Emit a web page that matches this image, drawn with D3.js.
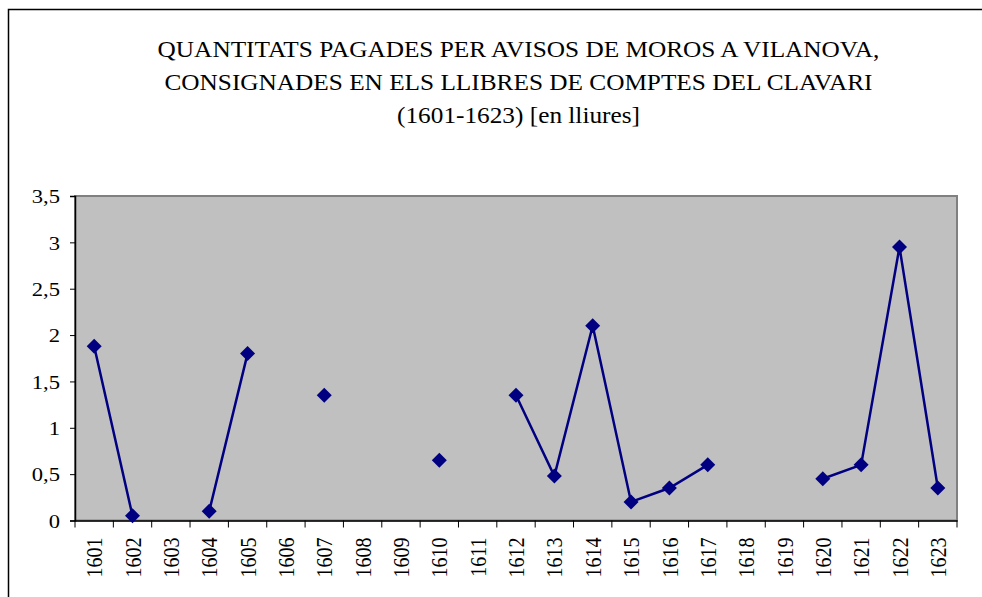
<!DOCTYPE html>
<html>
<head>
<meta charset="utf-8">
<script src="https://cdn.jsdelivr.net/npm/d3@7"></script>
<style>
  html, body { margin: 0; padding: 0; background: #fff; }
  svg { display: block; }
</style>
</head>
<body>
<svg id="chart" width="982" height="597"></svg>
<script>
const titleLines = [
  "QUANTITATS PAGADES PER AVISOS DE MOROS A VILANOVA,",
  "CONSIGNADES EN ELS LLIBRES DE COMPTES DEL CLAVARI",
  "(1601-1623) [en lliures]"
];
const years = ["1601","1602","1603","1604","1605","1606","1607","1608","1609","1610","1611","1612","1613","1614","1615","1616","1617","1618","1619","1620","1621","1622","1623"];
const amounts = [1.88, 0.05, null, 0.1, 1.8, null, 1.35, null, null, 0.65, null, 1.35, 0.48, 2.1, 0.2, 0.35, 0.6, null, null, 0.45, 0.6, 2.95, 0.35];
const yTicks = [0, 0.5, 1, 1.5, 2, 2.5, 3, 3.5];

const FONT = "'Liberation Serif', 'Times New Roman', serif";
const SX = 1.16;      // horizontal stretch of tick labels in the original picture
const SX_TITLE = 1.1; // horizontal stretch of the title
const svg = d3.select("#chart");
const pLeft = 75, pRight = 957, pTop = 196, pBottom = 520.5;

// outer frame
svg.append("rect").attr("x", 8.5).attr("y", 9.5).attr("width", 1000).attr("height", 700)
  .attr("fill", "#fff").attr("stroke", "#000").attr("stroke-width", 1.5);

// title
const title = svg.append("g").attr("transform", `translate(518.5,0) scale(${SX_TITLE},1)`)
  .append("text").attr("text-anchor", "middle").attr("font-size", 23)
  .attr("font-family", FONT).attr("fill", "#000");
titleLines.forEach((t, i) => {
  title.append("tspan").attr("x", 0).attr("y", 57.5 + i * 33).text(t);
});

const x = d3.scaleBand().domain(years).range([pLeft, pRight]).padding(0);
const y = d3.scaleLinear().domain([0, 3.5]).range([pBottom, pTop]);

// plot area
svg.append("rect").attr("x", pLeft).attr("y", pTop).attr("width", pRight - pLeft).attr("height", pBottom - pTop)
  .attr("fill", "#c0c0c0").attr("stroke", "#808080").attr("stroke-width", 2);

// y axis
const yAxis = svg.append("g").attr("transform", `translate(${pLeft},0)`)
  .call(d3.axisLeft(y).tickValues(yTicks).tickSize(5).tickPadding(9)
    .tickFormat(d => String(d).replace(".", ",")));
yAxis.attr("font-family", FONT).attr("font-size", 19.5);
yAxis.select(".domain").attr("stroke", "#000").attr("stroke-width", 1.5);
yAxis.selectAll("line").attr("stroke", "#000").attr("stroke-width", 1);
yAxis.selectAll("text").attr("fill", "#000").attr("dy", "0.35em")
  .attr("transform", `translate(-15,0) scale(${SX},1)`).attr("x", 0);

// x axis
const xAxis = svg.append("g").attr("transform", `translate(0,${pBottom})`)
  .call(d3.axisBottom(x).tickSize(0).tickPadding(0));
xAxis.attr("font-family", FONT).attr("font-size", 20);
xAxis.select(".domain").attr("stroke", "#000").attr("stroke-width", 1.5);
xAxis.selectAll(".tick text")
  .attr("fill", "#000")
  .attr("transform", `translate(0,17) scale(${SX},1) rotate(-90)`)
  .attr("text-anchor", "end")
  .attr("x", 0).attr("y", 0).attr("dy", "0.35em");
// boundary ticks
const bounds = years.map(d => x(d)).concat([pRight]);
svg.append("g").selectAll("line").data(bounds).join("line")
  .attr("x1", d => d).attr("x2", d => d)
  .attr("y1", pBottom).attr("y2", pBottom + 7)
  .attr("stroke", "#000").attr("stroke-width", 1);

// line with gaps
const pts = years.map((yr, i) => ({ yr, v: amounts[i] }));
const line = d3.line().defined(d => d.v != null)
  .x(d => x(d.yr) + x.bandwidth() / 2).y(d => y(d.v));
svg.append("path").datum(pts).attr("d", line)
  .attr("fill", "none").attr("stroke", "#000080").attr("stroke-width", 2.5);

// markers
const s = 7.5;
svg.append("g").selectAll("path").data(pts.filter(d => d.v != null)).join("path")
  .attr("transform", d => `translate(${x(d.yr) + x.bandwidth() / 2},${y(d.v)})`)
  .attr("d", `M0,${-s}L${s},0L0,${s}L${-s},0Z`)
  .attr("fill", "#000080");
</script>
</body>
</html>
